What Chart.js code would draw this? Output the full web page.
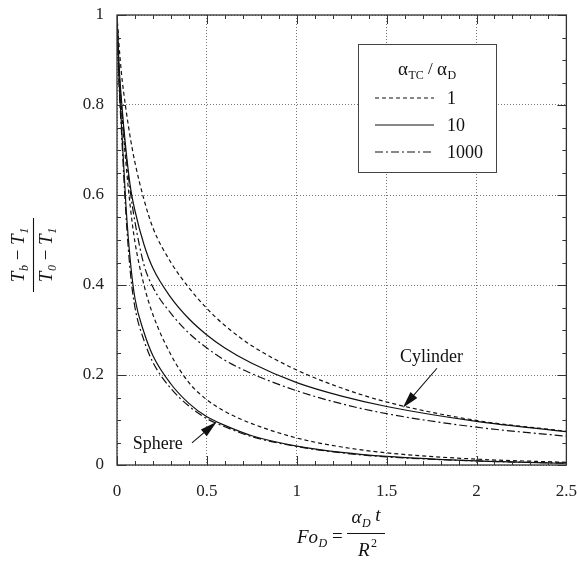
<!DOCTYPE html>
<html>
<head>
<meta charset="utf-8">
<script src="https://cdn.jsdelivr.net/npm/chart.js@4/dist/chart.umd.min.js"></script>
<style>
  html, body { margin: 0; padding: 0; background: #fff; }
  #wrap { width: 577px; height: 562px; }
</style>
</head>
<body>
<div id="wrap"><canvas id="c" width="577" height="562"></canvas></div>
<script>
// Fourier number values shared by all curves
var fo = [0, 0.01, 0.025, 0.05, 0.075, 0.1, 0.15, 0.2, 0.3, 0.4, 0.5, 0.6, 0.75, 1, 1.25, 1.5, 2, 2.5];

// cylinder, alpha_TC / alpha_D = 1, 10, 1000
var cyl1    = [1, 0.94, 0.87, 0.79, 0.725, 0.672, 0.59, 0.527, 0.45, 0.394, 0.348, 0.31, 0.265, 0.211, 0.171, 0.14, 0.099, 0.075];
var cyl10   = [1, 0.90, 0.81, 0.70, 0.617, 0.565, 0.49, 0.437, 0.372, 0.325, 0.289, 0.26, 0.226, 0.183, 0.153, 0.13, 0.097, 0.074];
var cyl1000 = [1, 0.89, 0.80, 0.69, 0.605, 0.54, 0.445, 0.395, 0.337, 0.293, 0.26, 0.233, 0.203, 0.165, 0.136, 0.114, 0.084, 0.064];

// sphere, alpha_TC / alpha_D = 1, 10, 1000
var sph1    = [1, 0.88, 0.79, 0.67, 0.57, 0.495, 0.40, 0.334, 0.245, 0.183, 0.145, 0.119, 0.092, 0.06, 0.04, 0.027, 0.013, 0.006];
var sph10   = [1, 0.87, 0.755, 0.575, 0.45, 0.37, 0.295, 0.243, 0.18, 0.137, 0.107, 0.088, 0.065, 0.042, 0.028, 0.019, 0.009, 0.004];
var sph1000 = [1, 0.86, 0.74, 0.555, 0.425, 0.35, 0.277, 0.228, 0.17, 0.131, 0.103, 0.085, 0.063, 0.041, 0.027, 0.018, 0.009, 0.004];

var ratios = ['1', '10', '1000'];
var xTicks = [0, 0.5, 1, 1.5, 2, 2.5];
var yTicks = [0, 0.2, 0.4, 0.6, 0.8, 1];

var DASH = [4, 3];
var DASHDOT = [8, 3, 2, 3];
var SERIF = '"Liberation Serif", "DejaVu Serif", serif';

function pts(vals) {
  return vals.map(function (v, i) { return { x: fo[i], y: v }; });
}

function curve(label, vals, dash) {
  return {
    label: label,
    data: pts(vals),
    showLine: true,
    borderColor: '#111',
    borderWidth: 1.2,
    borderDash: dash,
    pointRadius: 0,
    fill: false,
    cubicInterpolationMode: 'monotone'
  };
}

// draws "base" followed by a subscript, returns width
function subText(ctx, base, sub, x, y, size, italic, dry) {
  var st = italic ? 'italic ' : '';
  ctx.font = st + size + 'px ' + SERIF;
  var w1 = ctx.measureText(base).width;
  ctx.font = st + Math.round(size * 0.62) + 'px ' + SERIF;
  var w2 = ctx.measureText(sub).width;
  if (!dry) {
    ctx.font = st + size + 'px ' + SERIF;
    ctx.fillText(base, x, y);
    ctx.font = st + Math.round(size * 0.62) + 'px ' + SERIF;
    ctx.fillText(sub, x + w1 + 0.5, y + size * 0.3);
  }
  return w1 + w2 + 0.5;
}

function arrow(ctx, x1, y1, x2, y2) {
  var ang = Math.atan2(y2 - y1, x2 - x1);
  var L = 17, W = 4.5;
  ctx.beginPath();
  ctx.moveTo(x1, y1);
  ctx.lineTo(x2 - L * Math.cos(ang) * 0.6, y2 - L * Math.sin(ang) * 0.6);
  ctx.stroke();
  ctx.beginPath();
  ctx.moveTo(x2, y2);
  ctx.lineTo(x2 - L * Math.cos(ang) + W * Math.sin(ang), y2 - L * Math.sin(ang) - W * Math.cos(ang));
  ctx.lineTo(x2 - L * Math.cos(ang) - W * Math.sin(ang), y2 - L * Math.sin(ang) + W * Math.cos(ang));
  ctx.closePath();
  ctx.fill();
}

var notes = {
  cylText: { x: 1.75, y: 0.24 }, cylFrom: { x: 1.78, y: 0.215 }, cylTo: { x: 1.59, y: 0.127 },
  sphText: { x: 0.227, y: 0.047 }, sphFrom: { x: 0.417, y: 0.049 }, sphTo: { x: 0.555, y: 0.096 }
};

var decor = {
  id: 'decor',
  afterDraw: function (chart) {
    var ctx = chart.ctx, a = chart.chartArea;
    var xs = chart.scales.x, ys = chart.scales.y;
    ctx.save();
    ctx.strokeStyle = '#333';
    ctx.lineWidth = 1.3;
    ctx.strokeRect(a.left, a.top, a.right - a.left, a.bottom - a.top);

    // inward tick marks on all four sides
    ctx.lineWidth = 1;
    ctx.beginPath();
    var i, p, len;
    for (i = 0; i <= 25; i++) {
      p = Math.round(xs.getPixelForValue(i / 10)) + 0.5;
      len = i % 5 === 0 ? 9 : 4;
      ctx.moveTo(p, a.bottom); ctx.lineTo(p, a.bottom - len);
      ctx.moveTo(p, a.top); ctx.lineTo(p, a.top + len);
    }
    for (i = 0; i <= 20; i++) {
      p = Math.round(ys.getPixelForValue(i / 20)) + 0.5;
      len = i % 4 === 0 ? 9 : 4;
      ctx.moveTo(a.left, p); ctx.lineTo(a.left + len, p);
      ctx.moveTo(a.right, p); ctx.lineTo(a.right - len, p);
    }
    ctx.stroke();

    // legend box
    var lx = 358, ly = 44, lw = 138, lh = 128;
    ctx.fillStyle = '#fff';
    ctx.fillRect(lx, ly, lw, lh);
    ctx.strokeStyle = '#444';
    ctx.strokeRect(lx + 0.5, ly + 0.5, lw, lh);
    ctx.fillStyle = '#111';
    ctx.textBaseline = 'middle';
    ctx.textAlign = 'left';
    var w = subText(ctx, 'α', 'TC', 0, 0, 19, false, true);
    ctx.font = '17px ' + SERIF;
    var ws = ctx.measureText(' / ').width;
    var w3 = subText(ctx, 'α', 'D', 0, 0, 19, false, true);
    var tx = lx + lw / 2 - (w + ws + w3) / 2;
    subText(ctx, 'α', 'TC', tx, 70, 19, false);
    ctx.font = '17px ' + SERIF;
    ctx.fillText(' / ', tx + w, 70);
    subText(ctx, 'α', 'D', tx + w + ws, 70, 19, false);

    var dashes = [DASH, [], DASHDOT];
    var rowY = [98, 125, 152];
    ctx.strokeStyle = '#111';
    ctx.lineWidth = 1.2;
    for (i = 0; i < 3; i++) {
      ctx.setLineDash(dashes[i]);
      ctx.beginPath();
      ctx.moveTo(375, rowY[i]); ctx.lineTo(434, rowY[i]);
      ctx.stroke();
      ctx.setLineDash([]);
      ctx.font = '18px ' + SERIF;
      ctx.fillText(ratios[i], 447, rowY[i] + 1);
    }

    // curve annotations
    function px(o) { return { x: xs.getPixelForValue(o.x), y: ys.getPixelForValue(o.y) }; }
    ctx.textAlign = 'center';
    ctx.font = '18px ' + SERIF;
    var t = px(notes.cylText);
    ctx.fillText('Cylinder', t.x, t.y);
    var f = px(notes.cylFrom), e = px(notes.cylTo);
    ctx.lineWidth = 1.1;
    arrow(ctx, f.x, f.y, e.x, e.y);
    t = px(notes.sphText);
    ctx.fillText('Sphere', t.x, t.y);
    f = px(notes.sphFrom); e = px(notes.sphTo);
    arrow(ctx, f.x, f.y, e.x, e.y);

    // y axis title (fraction, rotated)
    ctx.save();
    ctx.translate(33, 255);
    ctx.rotate(-Math.PI / 2);
    ctx.textAlign = 'left';
    var nw = subText(ctx, 'T', 'b', 0, 0, 19, true, true);
    ctx.font = '19px ' + SERIF;
    var mw = ctx.measureText(' − ').width;
    var nw2 = subText(ctx, 'T', '1', 0, 0, 19, true, true);
    var sx = -(nw + mw + nw2) / 2;
    subText(ctx, 'T', 'b', sx, -14, 19, true);
    ctx.font = '19px ' + SERIF;
    ctx.fillText(' − ', sx + nw, -14);
    subText(ctx, 'T', '1', sx + nw + mw, -14, 19, true);
    var dw = subText(ctx, 'T', '0', 0, 0, 19, true, true);
    sx = -(dw + mw + nw2) / 2;
    subText(ctx, 'T', '0', sx, 14, 19, true);
    ctx.font = '19px ' + SERIF;
    ctx.fillText(' − ', sx + dw, 14);
    subText(ctx, 'T', '1', sx + dw + mw, 14, 19, true);
    ctx.beginPath();
    ctx.moveTo(-37, 0.5); ctx.lineTo(37, 0.5);
    ctx.stroke();
    ctx.restore();

    // x axis title
    ctx.textAlign = 'left';
    var fw = subText(ctx, 'Fo', 'D', 297, 538, 19, true);
    ctx.font = '19px ' + SERIF;
    ctx.fillText(' =', 297 + fw, 537);
    var aw = subText(ctx, 'α', 'D', 0, 0, 19, true, true);
    ctx.font = 'italic 19px ' + SERIF;
    var tw = ctx.measureText(' t').width;
    var nx = 366 - (aw + tw) / 2;
    subText(ctx, 'α', 'D', nx, 518, 19, true);
    ctx.font = 'italic 19px ' + SERIF;
    ctx.fillText(' t', nx + aw, 516);
    ctx.beginPath();
    ctx.moveTo(347, 533.5); ctx.lineTo(385, 533.5);
    ctx.stroke();
    ctx.font = 'italic 19px ' + SERIF;
    ctx.fillText('R', 358, 551);
    ctx.font = '12px ' + SERIF;
    ctx.fillText('2', 371, 544);
    ctx.restore();
  }
};

new Chart(document.getElementById('c'), {
  type: 'scatter',
  data: {
    datasets: [
      curve('Cylinder 1', cyl1, DASH),
      curve('Cylinder 10', cyl10, []),
      curve('Cylinder 1000', cyl1000, DASHDOT),
      curve('Sphere 1', sph1, DASH),
      curve('Sphere 10', sph10, []),
      curve('Sphere 1000', sph1000, DASHDOT)
    ]
  },
  options: {
    responsive: false,
    animation: false,
    devicePixelRatio: 1,
    layout: { padding: { left: 0, top: 15, right: 10, bottom: 0 } },
    plugins: { legend: { display: false }, tooltip: { enabled: false } },
    scales: {
      x: {
        type: 'linear', min: 0, max: 2.5,
        afterFit: function (s) { s.height = 97; },
        afterBuildTicks: function (s) { s.ticks = xTicks.map(function (v) { return { value: v }; }); },
        ticks: {
          padding: 0, color: '#222', font: { family: SERIF, size: 17 },
          callback: function (v) { return String(v); }
        },
        // invisible tick marks only push the labels away from the axis
        grid: { color: '#777', lineWidth: 1, drawTicks: true, tickLength: 16, tickWidth: 0 },
        border: { display: false, dash: [1, 2] }
      },
      y: {
        type: 'linear', min: 0, max: 1,
        afterFit: function (s) { s.width = 117; },
        afterBuildTicks: function (s) { s.ticks = yTicks.map(function (v) { return { value: v }; }); },
        ticks: {
          padding: 0, color: '#222', font: { family: SERIF, size: 17 },
          callback: function (v) { return String(v); }
        },
        grid: { color: '#777', lineWidth: 1, drawTicks: true, tickLength: 13, tickWidth: 0 },
        border: { display: false, dash: [1, 2] }
      }
    }
  },
  plugins: [decor]
});
</script>
</body>
</html>
